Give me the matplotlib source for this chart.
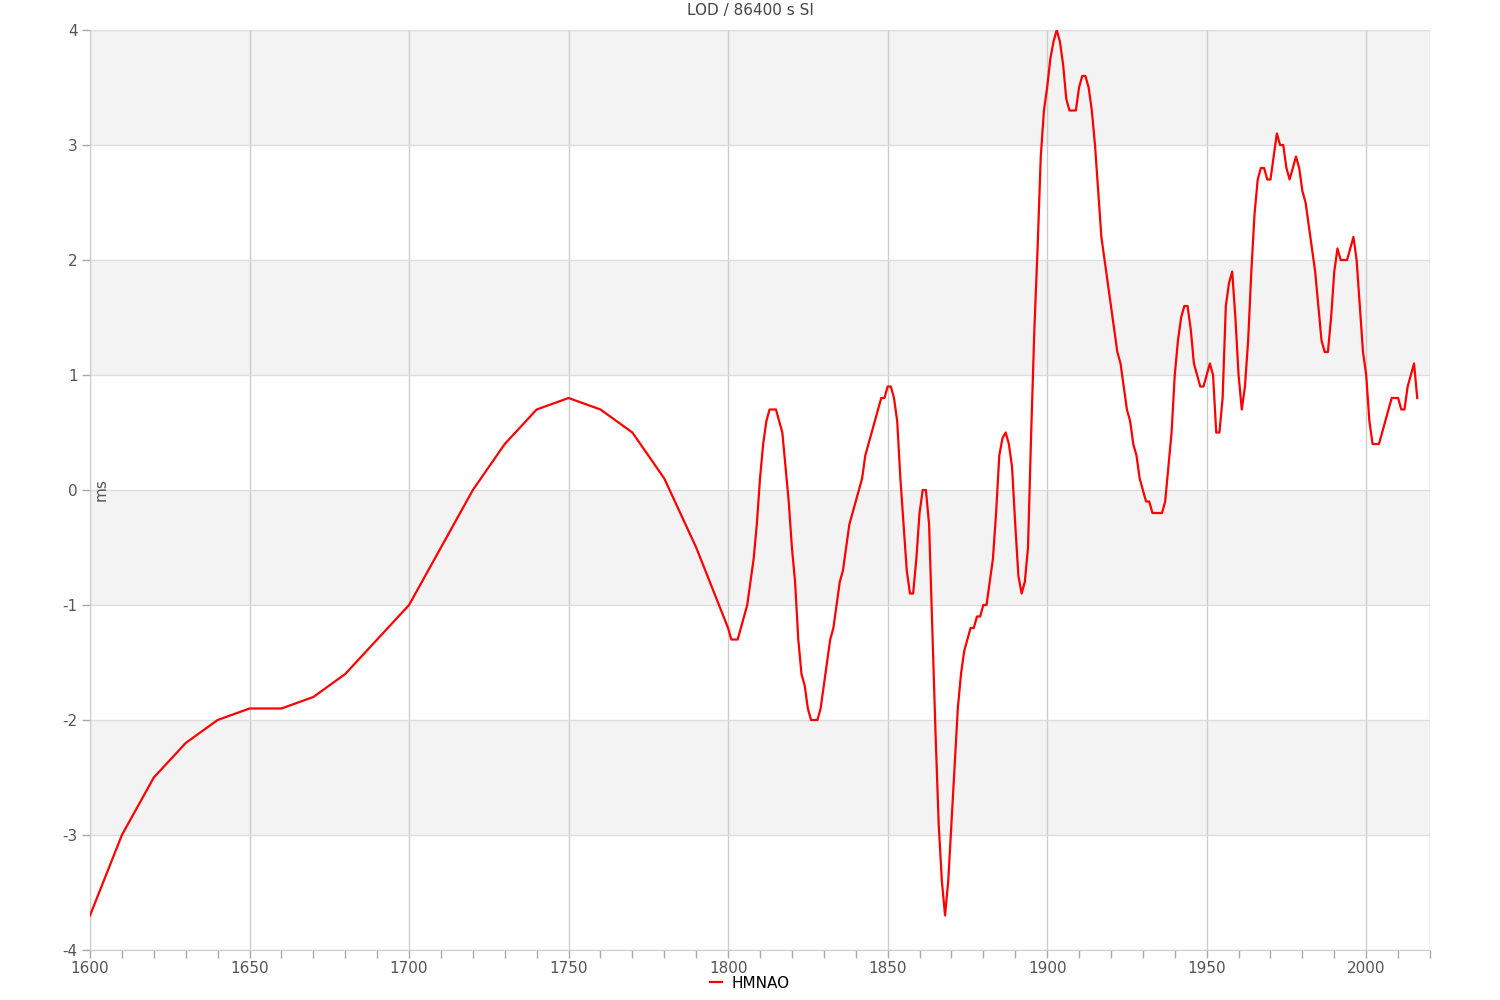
import matplotlib
matplotlib.use("Agg")
from matplotlib import pyplot as plt
from matplotlib.lines import Line2D
import numpy as np

# decadal values 1600-1800
years_early = np.arange(1600, 1801, 10)
lod_early = [-3.7, -3.0, -2.5, -2.2, -2.0, -1.9, -1.9, -1.8, -1.6, -1.3,
             -1.0, -0.5, 0.0, 0.4, 0.7, 0.8, 0.7, 0.5, 0.1, -0.5, -1.2]

# yearly values 1801-2016
years_late = np.arange(1801, 2017)
lod_late = [
    -1.3, -1.3, -1.3, -1.2, -1.1, -1.0, -0.8, -0.6, -0.3, 0.1,     # 1801-1810
    0.4, 0.6, 0.7, 0.7, 0.7, 0.6, 0.5, 0.2, -0.1, -0.5,            # 1811-1820
    -0.8, -1.3, -1.6, -1.7, -1.9, -2.0, -2.0, -2.0, -1.9, -1.7,    # 1821-1830
    -1.5, -1.3, -1.2, -1.0, -0.8, -0.7, -0.5, -0.3, -0.2, -0.1,    # 1831-1840
    0.0, 0.1, 0.3, 0.4, 0.5, 0.6, 0.7, 0.8, 0.8, 0.9,              # 1841-1850
    0.9, 0.8, 0.6, 0.1, -0.3, -0.7, -0.9, -0.9, -0.6, -0.2,        # 1851-1860
    0.0, 0.0, -0.3, -1.2, -2.1, -2.9, -3.4, -3.7, -3.4, -2.9,      # 1861-1870
    -2.4, -1.9, -1.6, -1.4, -1.3, -1.2, -1.2, -1.1, -1.1, -1.0,    # 1871-1880
    -1.0, -0.8, -0.6, -0.2, 0.3, 0.45, 0.5, 0.4, 0.2, -0.3,        # 1881-1890
    -0.75, -0.9, -0.8, -0.5, 0.5, 1.4, 2.1, 2.9, 3.3, 3.5,         # 1891-1900
    3.75, 3.9, 4.0, 3.9, 3.7, 3.4, 3.3, 3.3, 3.3, 3.5,             # 1901-1910
    3.6, 3.6, 3.5, 3.3, 3.0, 2.6, 2.2, 2.0, 1.8, 1.6,              # 1911-1920
    1.4, 1.2, 1.1, 0.9, 0.7, 0.6, 0.4, 0.3, 0.1, 0.0,              # 1921-1930
    -0.1, -0.1, -0.2, -0.2, -0.2, -0.2, -0.1, 0.2, 0.5, 1.0,       # 1931-1940
    1.3, 1.5, 1.6, 1.6, 1.4, 1.1, 1.0, 0.9, 0.9, 1.0,              # 1941-1950
    1.1, 1.0, 0.5, 0.5, 0.8, 1.6, 1.8, 1.9, 1.5, 1.0,              # 1951-1960
    0.7, 0.9, 1.3, 1.9, 2.4, 2.7, 2.8, 2.8, 2.7, 2.7,              # 1961-1970
    2.9, 3.1, 3.0, 3.0, 2.8, 2.7, 2.8, 2.9, 2.8, 2.6,              # 1971-1980
    2.5, 2.3, 2.1, 1.9, 1.6, 1.3, 1.2, 1.2, 1.5, 1.9,              # 1981-1990
    2.1, 2.0, 2.0, 2.0, 2.1, 2.2, 2.0, 1.6, 1.2, 1.0,              # 1991-2000
    0.6, 0.4, 0.4, 0.4, 0.5, 0.6, 0.7, 0.8, 0.8, 0.8,              # 2001-2010
    0.7, 0.7, 0.9, 1.0, 1.1, 0.8,                                  # 2011-2016
]

years = np.concatenate([years_early, years_late])
lod = np.concatenate([lod_early, lod_late])

series_name = "HMNAO"
title = "LOD / 86400 s SI"
y_label = "ms"

plt.rcParams["font.family"] = ["DejaVu Sans"]
plt.rcParams["axes.unicode_minus"] = False

fig = plt.figure(figsize=(15, 10), dpi=100)
ax = fig.add_axes([0.06, 0.05, 1340 / 1500, 0.92])

# alternating bands
for lo in [-3, -1, 1, 3]:
    ax.axhspan(lo, lo + 1, color="#f3f3f3", zorder=0, lw=0)

ax.plot(years, lod, color="#ff0000", lw=1.6, zorder=3)

ax.set_xlim(1600, 2020)
ax.set_ylim(-4, 4)
ax.set_xticks(np.arange(1600, 2001, 50))
ax.set_xticks(np.arange(1600, 2021, 10), minor=True)
ax.set_yticks(np.arange(-4, 5, 1))

ax.grid(axis="x", which="major", color="#cccccc", lw=1, zorder=1)
ax.grid(axis="y", which="major", color="#dddddd", lw=1, zorder=1)
ax.axvline(2020, color="#cccccc", lw=1, zorder=1)
ax.axhline(4, color="#dddddd", lw=1, zorder=1)

for side in ["top", "right"]:
    ax.spines[side].set_visible(False)
ax.spines["left"].set_color("#cccccc")
ax.spines["bottom"].set_color("#cccccc")

ax.tick_params(axis="both", which="both", colors="#aaaaaa", labelcolor="#555555",
               labelsize=11, length=6, width=1)
ax.tick_params(axis="x", which="major", pad=2)
ax.tick_params(axis="y", pad=3)

ax.text(0.003, 0.5, y_label, transform=ax.transAxes, rotation=90,
        ha="left", va="center", fontsize=11, color="#555555")

fig.text(0.5, 0.989, title, ha="center", va="center", fontsize=11, color="#444444")

handle = Line2D([], [], color="#ff0000", lw=1.6)
fig.legend([handle], [series_name], loc="center", bbox_to_anchor=(0.5, 0.017),
           frameon=False, fontsize=11, handlelength=0.8, handletextpad=0.6,
           borderpad=0.1)

fig.savefig("out.png", dpi=100)
